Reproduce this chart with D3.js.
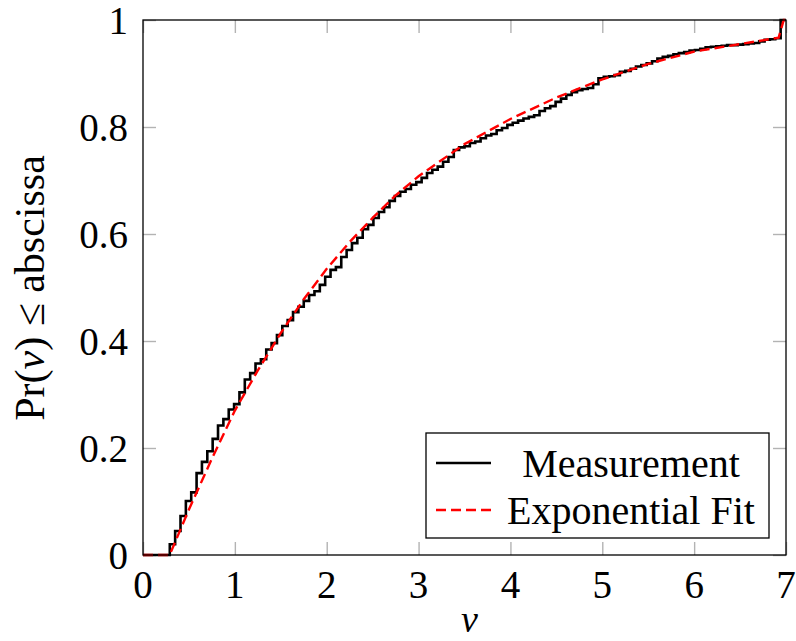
<!DOCTYPE html>
<html>
<head>
<meta charset="utf-8">
<script src="https://cdn.jsdelivr.net/npm/d3@7/dist/d3.min.js"></script>
<style>
  html, body { margin: 0; padding: 0; background: #fff; }
  svg text { font-family: "Liberation Serif", "Times New Roman", serif; fill: #000; }
</style>
</head>
<body>
<svg id="chart" width="796" height="641"></svg>
<script>
// ---- data ----
const xTicks = [0, 1, 2, 3, 4, 5, 6, 7];
const yTicks = [0, 0.2, 0.4, 0.6, 0.8, 1];
const yTickLabels = ["0", "0.2", "0.4", "0.6", "0.8", "1"];
const seriesNames = ["Measurement", "Exponential Fit"];

// Measurement: empirical CDF value in each of 120 equal bins on [0, 7]
const binCount = 120;
const measured = [
  0, 0, 0, 0, 0,
  0.020, 0.045, 0.073, 0.101, 0.117, 0.153, 0.174, 0.194, 0.217, 0.242,
  0.254, 0.272, 0.282, 0.304, 0.328, 0.340, 0.358, 0.366, 0.384, 0.396,
  0.411, 0.428, 0.439, 0.454, 0.464, 0.475, 0.486, 0.493, 0.505, 0.520,
  0.533, 0.538, 0.557, 0.570, 0.583, 0.593, 0.609, 0.617, 0.630, 0.641,
  0.650, 0.662, 0.671, 0.679, 0.684, 0.692, 0.697, 0.705, 0.714, 0.720,
  0.726, 0.735, 0.744, 0.757, 0.762, 0.764, 0.770, 0.773, 0.779, 0.784,
  0.787, 0.794, 0.798, 0.804, 0.808, 0.812, 0.816, 0.819, 0.822, 0.830,
  0.835, 0.839, 0.847, 0.853, 0.860, 0.865, 0.869, 0.871, 0.873, 0.880,
  0.891, 0.894, 0.895, 0.897, 0.903, 0.905, 0.909, 0.913, 0.916, 0.919,
  0.923, 0.928, 0.931, 0.933, 0.936, 0.938, 0.940, 0.943, 0.944, 0.946,
  0.949, 0.950, 0.951, 0.952, 0.953, 0.953, 0.954, 0.955, 0.956, 0.957,
  0.960, 0.963, 0.964, 0.966, 1.000
];

// Exponential fit, points
const fitV = [0, 0.29, 0.5, 0.75, 1.0, 1.25, 1.5, 1.75, 2.0, 2.25, 2.5, 2.75, 3.0, 3.5, 4.0, 4.5, 5.0, 5.5, 6.0, 6.5, 6.92, 6.975, 7.0];
const fitP = [0, 0, 0.085, 0.18, 0.27, 0.345, 0.415, 0.478, 0.535, 0.585, 0.63, 0.672, 0.708, 0.768, 0.815, 0.855, 0.889, 0.918, 0.941, 0.955, 0.967, 1.0, 1.0];

// ---- layout ----
const svg = d3.select("#chart");
const pL = 143, pR = 786, pT = 20, pB = 555;
const x = d3.scaleLinear().domain([0, 7]).range([pL, pR]);
const y = d3.scaleLinear().domain([0, 1]).range([pB, pT]);

svg.append("defs").append("clipPath").attr("id", "clip")
  .append("rect").attr("x", pL).attr("y", pT - 2)
  .attr("width", pR - pL + 2).attr("height", pB - pT + 4);

// ticks (gray, inside, on all four sides)
const tickLen = 13, tickColor = "#b3b3b3";
const tickG = svg.append("g");
const axB = d3.axisBottom(x).tickValues(xTicks).tickSize(-tickLen).tickFormat("");
const axT = d3.axisTop(x).tickValues(xTicks).tickSize(-tickLen).tickFormat("");
const axL = d3.axisLeft(y).tickValues(yTicks).tickSize(-tickLen).tickFormat("");
const axR = d3.axisRight(y).tickValues(yTicks).tickSize(-tickLen).tickFormat("");
[[axB, `translate(0,${pB})`], [axT, `translate(0,${pT})`],
 [axL, `translate(${pL},0)`], [axR, `translate(${pR},0)`]].forEach(([ax, tr]) => {
  const g = tickG.append("g").attr("transform", tr).call(ax);
  g.select(".domain").remove();
  g.selectAll(".tick line").attr("stroke", tickColor).attr("stroke-width", 1.4);
});

// tick labels
svg.append("g").selectAll("text").data(xTicks).join("text")
  .attr("x", d => x(d)).attr("y", 584)
  .attr("text-anchor", "middle").attr("dominant-baseline", "central")
  .style("font-size", "39px").text(d => d);
svg.append("g").selectAll("text").data(yTicks).join("text")
  .attr("x", 128).attr("y", d => y(d))
  .attr("text-anchor", "end").attr("dominant-baseline", "central")
  .style("font-size", "39px").text((d, i) => yTickLabels[i]);

// axis labels
svg.append("text").attr("x", (pL + pR) / 2 + 5).attr("y", 632)
  .attr("text-anchor", "middle")
  .style("font-size", "38px").style("font-style", "italic").text("v");

const yl = svg.append("text")
  .attr("transform", "translate(30,288) rotate(-90)")
  .attr("text-anchor", "middle").attr("dominant-baseline", "central")
  .style("font-size", "42px");
yl.append("tspan").text("Pr(");
yl.append("tspan").style("font-style", "italic").text("v");
yl.append("tspan").text(") \u2264 abscissa");

// data lines
const binW = 7 / binCount;
const measPts = measured.map((p, k) => [k * binW, p]);
measPts.push([7, measured[measured.length - 1]]);
const fitPts = fitV.map((v, i) => [v, fitP[i]]);

const plotG = svg.append("g").attr("clip-path", "url(#clip)");
plotG.append("path").datum(measPts)
  .attr("d", d3.line().x(d => x(d[0])).y(d => y(d[1])).curve(d3.curveStepAfter))
  .attr("fill", "none").attr("stroke", "#000").attr("stroke-width", 2.6)
  .attr("stroke-linejoin", "miter");
plotG.append("path").datum(fitPts)
  .attr("d", d3.line().x(d => x(d[0])).y(d => y(d[1])))
  .attr("fill", "none").attr("stroke", "#ff0000").attr("stroke-width", 2.4)
  .attr("stroke-dasharray", "10,5");

// frame
svg.append("rect").attr("x", pL).attr("y", pT)
  .attr("width", pR - pL).attr("height", pB - pT)
  .attr("fill", "none").attr("stroke", "#000").attr("stroke-width", 1.3);

// legend
const lg = svg.append("g");
lg.append("rect").attr("x", 426).attr("y", 433).attr("width", 343).attr("height", 105)
  .attr("fill", "#fff").attr("stroke", "#000").attr("stroke-width", 1.3);
const legendRows = [
  { name: seriesNames[0], color: "#000", dash: null, w: 2.6, yy: 463 },
  { name: seriesNames[1], color: "#ff0000", dash: "10,5", w: 2.4, yy: 510 }
];
legendRows.forEach(r => {
  lg.append("line").attr("x1", 436).attr("x2", 491).attr("y1", r.yy).attr("y2", r.yy)
    .attr("stroke", r.color).attr("stroke-width", r.w)
    .attr("stroke-dasharray", r.dash);
  lg.append("text").attr("x", 631).attr("y", r.yy)
    .attr("text-anchor", "middle").attr("dominant-baseline", "central")
    .style("font-size", "40px").text(r.name);
});
</script>
</body>
</html>
